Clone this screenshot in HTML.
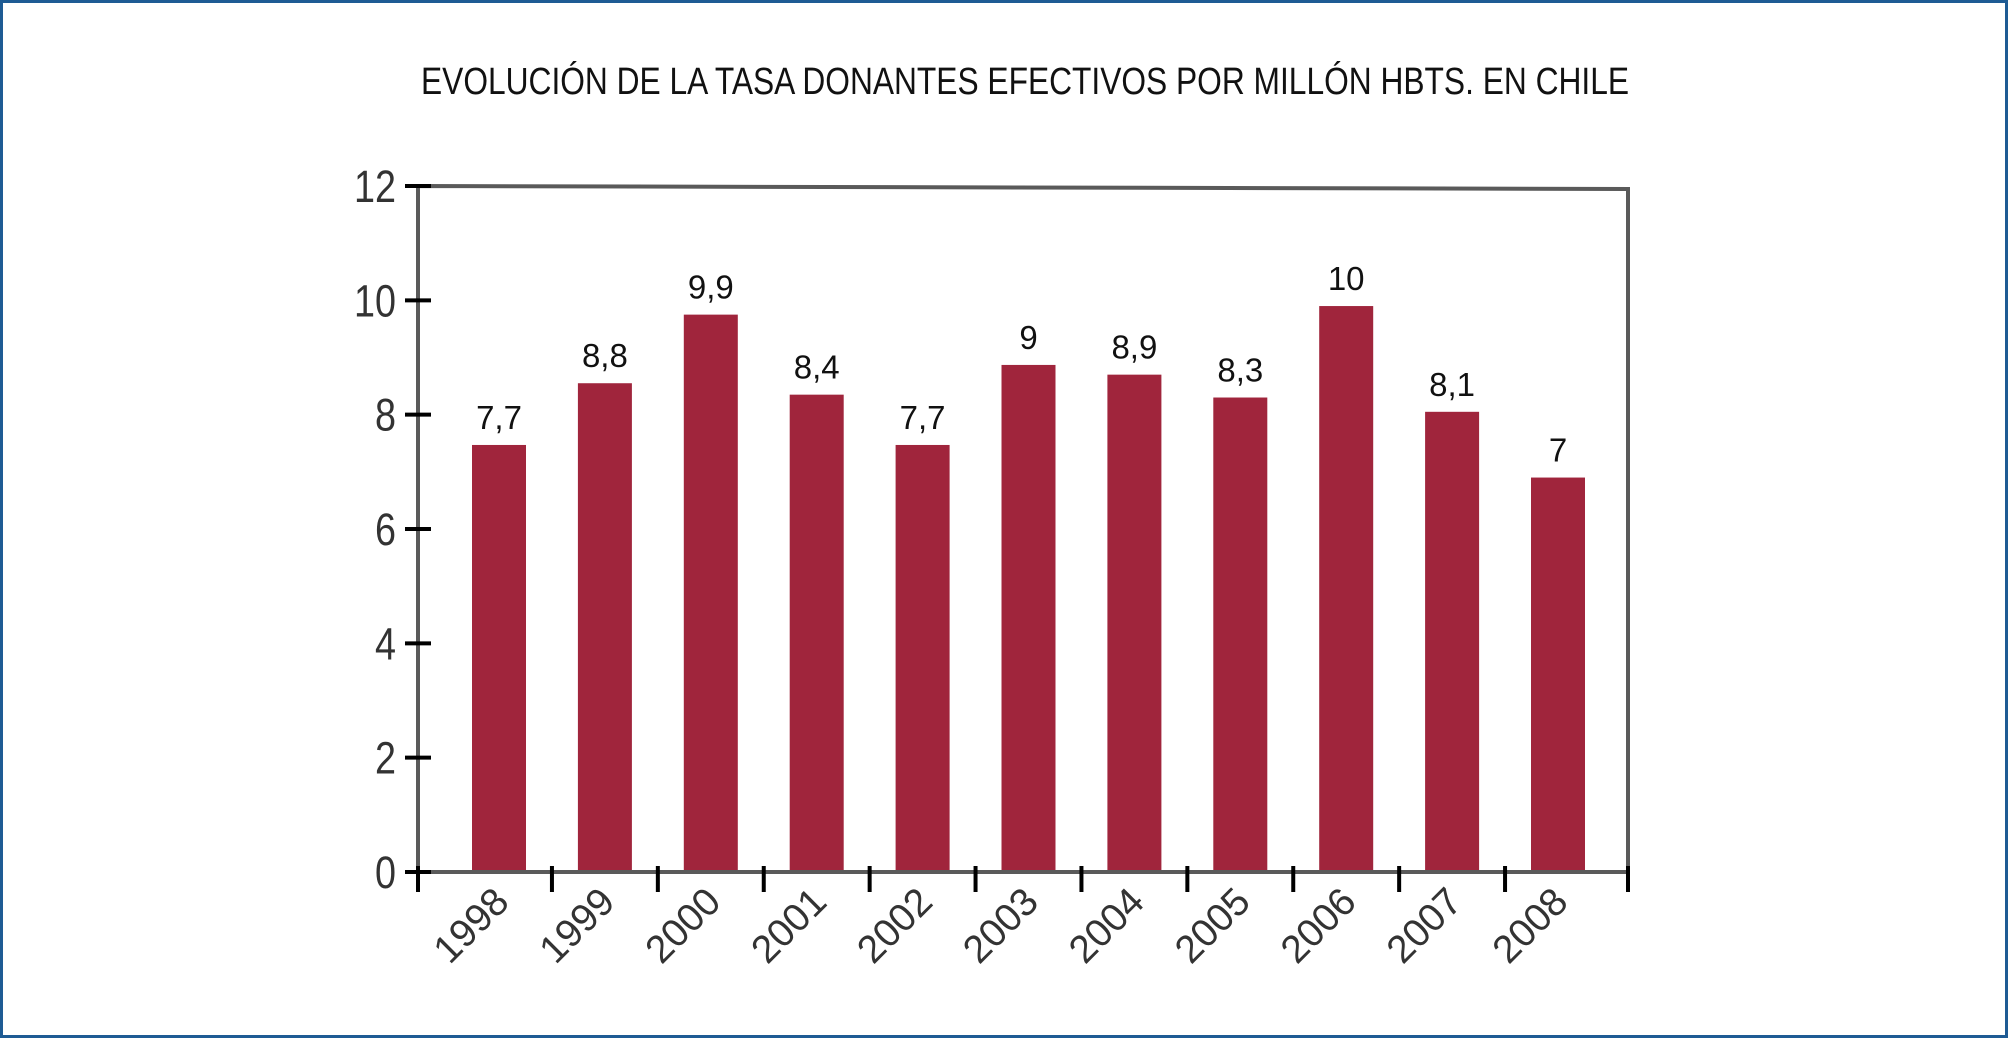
<!DOCTYPE html>
<html><head><meta charset="utf-8"><style>
html,body{margin:0;padding:0;background:#fff}
svg{display:block}
text{font-family:"Liberation Sans Narrow","Liberation Sans",sans-serif}
</style></head><body>
<svg id="chart" width="2008" height="1038" viewBox="0 0 2008 1038">
<rect x="1.5" y="1.5" width="2005" height="1035" fill="#fff" stroke="#1e5b94" stroke-width="3"/>
<text x="1025" y="94" text-anchor="middle" font-size="38" fill="#111" textLength="1208" lengthAdjust="spacingAndGlyphs">EVOLUCIÓN DE LA TASA DONANTES EFECTIVOS POR MILLÓN HBTS. EN CHILE</text>
<g id="plot"></g>
</svg>
<script>
const years = ["1998","1999","2000","2001","2002","2003","2004","2005","2006","2007","2008"];
const values = [7.47, 8.55, 9.75, 8.35, 7.47, 8.87, 8.7, 8.3, 9.9, 8.05, 6.9];
const valueLabels = ["7,7","8,8","9,9","8,4","7,7","9","8,9","8,3","10","8,1","7"];
const yTicks = [0, 2, 4, 6, 8, 10, 12];

const NS = "http://www.w3.org/2000/svg";
const g = document.getElementById('plot');
const L = 418, R = 1628, B = 872, T = 186, yMax = 12;
const y = v => B - v / yMax * (B - T);
const step = 105.9, x0 = 499;
const x = i => x0 + i * step;
function mk(tag, attrs, txt) {
  const e = document.createElementNS(NS, tag);
  for (const k in attrs) e.setAttribute(k, attrs[k]);
  if (txt !== undefined) e.textContent = txt;
  g.appendChild(e);
  return e;
}
values.forEach((v, i) => {
  const r = mk('rect', {x: x(i) - 27, y: y(v), width: 54, height: B - y(v), fill: '#a0253c'});
  
  
  const t = mk('text', {x: x(i), y: y(v) - 16, 'text-anchor': 'middle', 'font-size': 33, fill: '#111'}, valueLabels[i]);
  
  
  const xl = mk('text', {x: x(i) + 12, y: 904, 'text-anchor': 'end', 'font-size': 39, fill: '#333', transform: `rotate(-45 ${x(i) + 12} 904)`}, years[i]);
  
  
});
const box = mk('path', {d: `M${L} ${T} L${R} ${T + 3} L${R} ${B} L${L} ${B} Z`, fill: 'none', stroke: '#5a5a5a', 'stroke-width': 4});


yTicks.forEach(v => {
  const tk = mk('line', {x1: L - 13, x2: L + 13, y1: y(v), y2: y(v), stroke: '#000', 'stroke-width': 4});
  
  
  const tl = mk('text', {x: L - 22, y: y(v) + 16, 'text-anchor': 'end', 'font-size': 45, fill: '#333', textLength: String(v).length * 21, lengthAdjust: 'spacingAndGlyphs'}, String(v));
  
  
});
for (let i = 0; i <= years.length; i++) {
  const xx = i === 0 ? L : (i === years.length ? R : x(i) - step / 2);
  const tk = mk('line', {x1: xx, x2: xx, y1: B - 6, y2: B + 20, stroke: '#000', 'stroke-width': 4});
  
  
}
</script>
</body></html>
